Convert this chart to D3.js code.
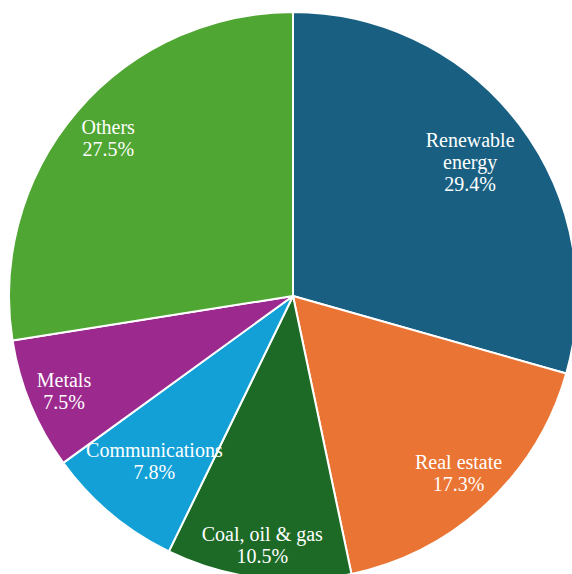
<!DOCTYPE html>
<html>
<head>
<meta charset="utf-8">
<script src="https://cdn.jsdelivr.net/npm/d3@7"></script>
<style>
  html, body { margin: 0; padding: 0; background: #ffffff; }
  svg { display: block; }
  text.lbl { font-family: "Liberation Serif", "Times New Roman", Times, serif; }
</style>
</head>
<body>
<svg id="chart" width="572" height="574"></svg>
<script>
// Sector shares of the portfolio, in percent
const categories = ["Renewable energy", "Real estate", "Coal, oil & gas", "Communications", "Metals", "Others"];
const shares = [29.4, 17.3, 10.5, 7.8, 7.5, 27.5];
const colors = ["#185F82", "#EA7433", "#1C6A26", "#12A0D7", "#9C2A8E", "#4FA632"];

const width = 572, height = 574;
const cx = 293, cy = 296, R = 284;
const fontSize = 20, lineHeight = 22, wrapWidth = 140, edgePad = 9;

const svg = d3.select("#chart");
const g = svg.append("g").attr("transform", `translate(${cx},${cy})`);

const pie = d3.pie().sort(null).value(d => d.value);
const arc = d3.arc().innerRadius(0).outerRadius(R);
const data = categories.map((c, i) => ({ name: c, value: shares[i], color: colors[i] }));
const arcs = pie(data);

g.selectAll("path.slice")
  .data(arcs)
  .join("path")
  .attr("class", "slice")
  .attr("d", arc)
  .attr("fill", d => d.data.color)
  .attr("stroke", "#ffffff")
  .attr("stroke-width", 2)
  .attr("stroke-linejoin", "round");

const fmt = d3.format(".1f");

// Label blocks: text is measured first, then each block is pushed outward along its mid-angle
const labels = g.selectAll("text.lbl")
  .data(arcs)
  .join("text")
  .attr("class", "lbl")
  .attr("font-size", fontSize)
  .attr("fill", "#ffffff")
  .attr("text-anchor", "middle");

function measure(textSel, str) {
  const t = textSel.append("tspan").text(str);
  const w = t.node().getComputedTextLength();
  t.remove();
  return w;
}

labels.each(function(d) {
  const sel = d3.select(this);
  // greedy word wrap of the category name
  const words = d.data.name.split(" ");
  const lines = [];
  let cur = "";
  words.forEach(wd => {
    const trial = cur ? cur + " " + wd : wd;
    if (cur && measure(sel, trial) > wrapWidth) { lines.push(cur); cur = wd; }
    else cur = trial;
  });
  if (cur) lines.push(cur);
  lines.push(fmt(d.data.value) + "%");

  const widths = lines.map(l => measure(sel, l));
  const n = lines.length;
  const mid = (d.startAngle + d.endAngle) / 2;
  const ux = Math.sin(mid), uy = -Math.cos(mid);

  const corners = r => {
    const px = r * ux, py = r * uy, pts = [];
    lines.forEach((l, i) => {
      const base = py + (i - (n - 1) / 2) * lineHeight + 7;
      const x0 = px - widths[i] / 2, x1 = px + widths[i] / 2;
      const y0 = base - 14, y1 = base + 2;
      pts.push([x0, y0], [x1, y0], [x0, y1], [x1, y1]);
    });
    return pts;
  };
  const maxDist = r => d3.max(corners(r), p => Math.hypot(p[0], p[1]));

  // furthest radius that keeps the block inside the rim
  let lo = 0, hi = R;
  for (let k = 0; k < 40; k++) {
    const m = (lo + hi) / 2;
    if (maxDist(m) <= R - edgePad) lo = m; else hi = m;
  }
  let r = lo;
  // blocks too wide for their wedge fall back to a fixed radius
  const inside = corners(r).every(p => {
    let a = Math.atan2(p[0], -p[1]);
    if (a < 0) a += 2 * Math.PI;
    return a >= d.startAngle && a <= d.endAngle;
  });
  if (!inside) r = 0.76 * R;

  const px = r * ux, py = r * uy;
  lines.forEach((l, i) => {
    sel.append("tspan")
      .attr("x", px)
      .attr("y", py + (i - (n - 1) / 2) * lineHeight + 7)
      .text(l);
  });
});
</script>
</body>
</html>
